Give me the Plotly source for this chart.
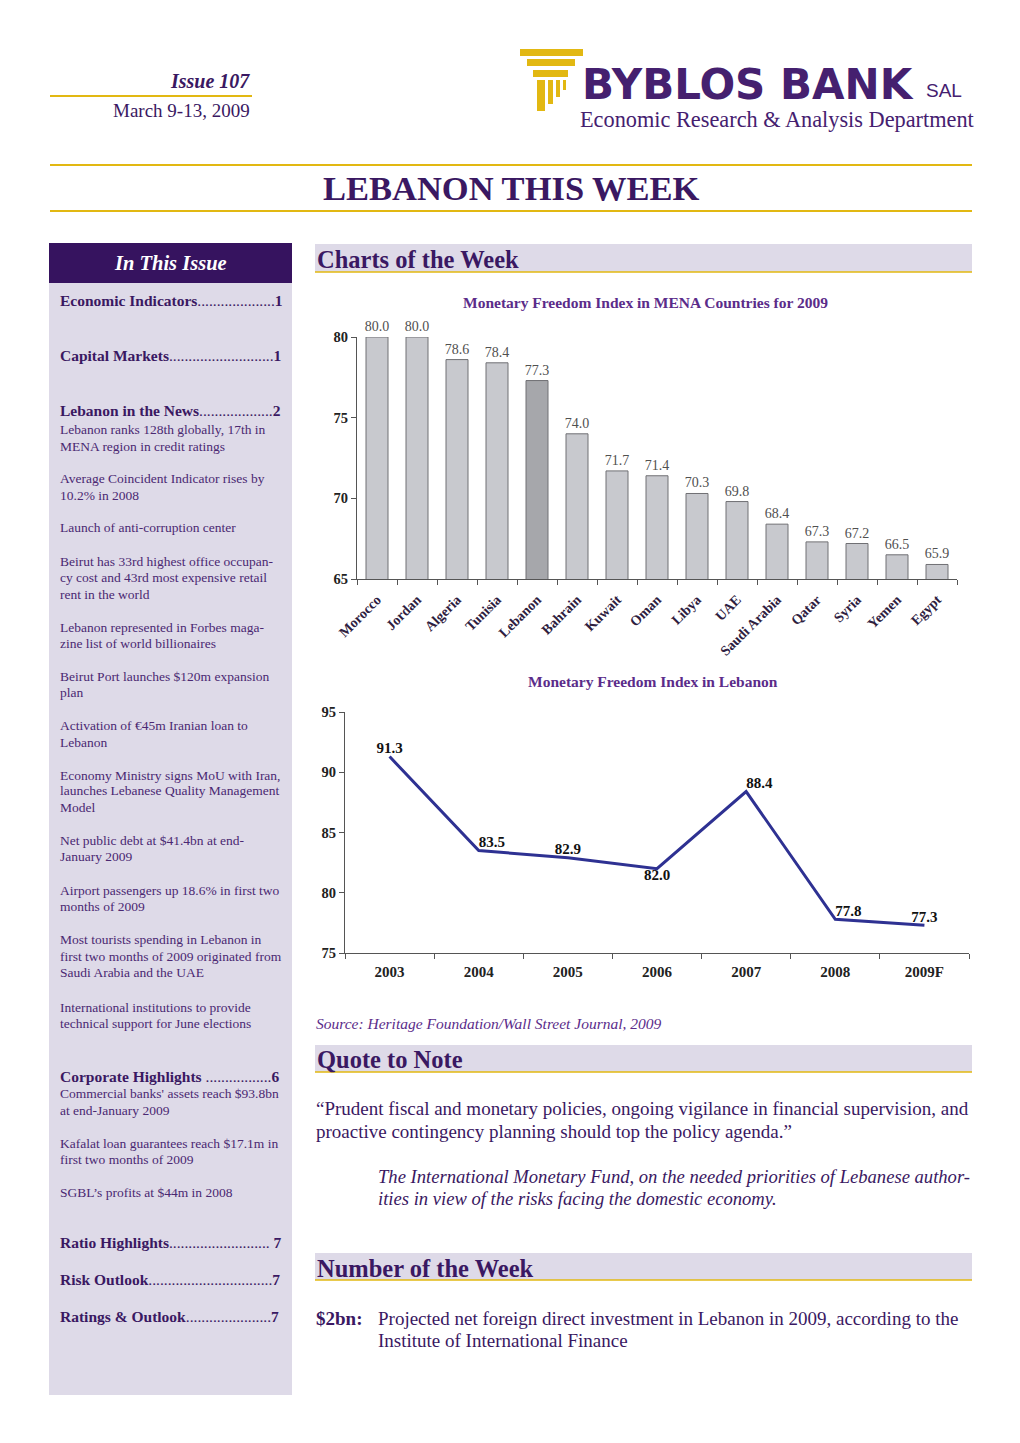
import plotly.graph_objects as go

W, H = 1004, 1427          # page body adds an 8 px margin on each side
OFF = 8
def X(px): return (px - OFF) / W
def Y(py): return 1 - (py - OFF) / H

# ---------------- data ----------------
countries = ["Morocco", "Jordan", "Algeria", "Tunisia", "Lebanon", "Bahrain", "Kuwait",
             "Oman", "Libya", "UAE", "Saudi Arabia", "Qatar", "Syria", "Yemen", "Egypt"]
mena_values = [80.0, 80.0, 78.6, 78.4, 77.3, 74.0, 71.7, 71.4, 70.3, 69.8, 68.4, 67.3, 67.2, 66.5, 65.9]
bar_ticks = [65, 70, 75, 80]

years = ["2003", "2004", "2005", "2006", "2007", "2008", "2009F"]
lebanon_values = [91.3, 83.5, 82.9, 82.0, 88.4, 77.8, 77.3]
line_ticks = [75, 80, 85, 90, 95]
label_pos = ["top center", "top right", "top center", "bottom center", "top right", "top right", "top center"]

sidebar_lines = [
    ("<b>Economic Indicators</b>....................<b>1</b>", 300, 15.5),
    ("<b>Capital Markets</b>...........................<b>1</b>", 356, 15.5),
    ("<b>Lebanon in the News</b>...................<b>2</b>", 411, 15.5),
    ("Lebanon ranks 128th globally, 17th in", 429, 13.5),
    ("MENA region in credit ratings", 446, 13.5),
    ("Average Coincident Indicator rises by", 478, 13.5),
    ("10.2% in 2008", 495, 13.5),
    ("Launch of anti-corruption center", 528, 13.5),
    ("Beirut has 33rd highest office occupan-", 561, 13.5),
    ("cy cost and 43rd most expensive retail", 577, 13.5),
    ("rent in the world", 594, 13.5),
    ("Lebanon represented in Forbes maga-", 627, 13.5),
    ("zine list of world billionaires", 643, 13.5),
    ("Beirut Port launches $120m expansion", 676, 13.5),
    ("plan", 692, 13.5),
    ("Activation of €45m Iranian loan to", 725, 13.5),
    ("Lebanon", 742, 13.5),
    ("Economy Ministry signs MoU with Iran,", 775, 13.5),
    ("launches Lebanese Quality Management", 791, 13.5),
    ("Model", 807, 13.5),
    ("Net public debt at $41.4bn at end-", 840, 13.5),
    ("January 2009", 857, 13.5),
    ("Airport passengers up 18.6% in first two", 890, 13.5),
    ("months of 2009", 906, 13.5),
    ("Most tourists spending in Lebanon in", 939, 13.5),
    ("first two months of 2009 originated from", 956, 13.5),
    ("Saudi Arabia and the UAE", 972, 13.5),
    ("International institutions to provide", 1007, 13.5),
    ("technical support for June elections", 1023, 13.5),
    ("<b>Corporate Highlights</b> .................<b>6</b>", 1076, 15.5),
    ("Commercial banks' assets reach $93.8bn", 1093, 13.5),
    ("at end-January 2009", 1110, 13.5),
    ("Kafalat loan guarantees reach $17.1m in", 1143, 13.5),
    ("first two months of 2009", 1159, 13.5),
    ("SGBL’s profits at $44m in 2008", 1192, 13.5),
    ("<b>Ratio Highlights</b>.......................... <b>7</b>", 1242, 15.5),
    ("<b>Risk Outlook</b>................................<b>7</b>", 1279, 15.5),
    ("<b>Ratings & Outlook</b>......................<b>7</b>", 1316, 15.5),
]

SERIF = "Liberation Serif"
PURPLE = "#45206F"
DARKP = "#3A1862"
TXT = "#4A2872"
GOLD = "#E2B812"
LAV = "#DEDAE8"

fig = go.Figure()

bar_colors = ["#A6A7AB" if c == "Lebanon" else "#C8C9CE" for c in countries]
fig.add_trace(go.Bar(
    x=countries, y=mena_values, marker=dict(color=bar_colors, line=dict(color="#707074", width=1)),
    width=0.55, text=[f"{v:.1f}" for v in mena_values], textposition="outside",
    constraintext="none", cliponaxis=False,
    textfont=dict(family=SERIF, size=14, color="#505050"),
    xaxis="x", yaxis="y", showlegend=False, hoverinfo="skip"))

fig.add_trace(go.Scatter(
    x=years, y=lebanon_values, mode="lines", line=dict(color="#2E3192", width=3),
    xaxis="x2", yaxis="y2", showlegend=False, hoverinfo="skip", cliponaxis=False))
fig.add_trace(go.Scatter(
    x=years, y=lebanon_values, mode="text", text=[f"{v:.1f}" for v in lebanon_values],
    textposition=label_pos,
    textfont=dict(family=SERIF, size=15, color="#111111", weight="bold"),
    xaxis="x2", yaxis="y2", showlegend=False, hoverinfo="skip", cliponaxis=False))

axis_common = dict(showline=True, linecolor="#555555", linewidth=1, ticks="outside",
                   ticklen=5, tickcolor="#555555", showgrid=False, zeroline=False,
                   fixedrange=True, automargin=False)
bold_tick = dict(family=SERIF, size=14.5, color="#222222", weight="bold")

fig.update_layout(
    template="none",
    width=W, height=H, margin=dict(l=0, r=0, t=0, b=0, pad=0, autoexpand=False),
    paper_bgcolor="white", plot_bgcolor="rgba(0,0,0,0)", showlegend=False,
    xaxis=dict(domain=[X(357), X(957)], anchor="y", type="category", tickson="boundaries",
               range=[-0.5, len(countries) - 0.5], ticklabelstandoff=6,
               tickangle=-45, tickfont=dict(family=SERIF, size=14, color="#2E2040", weight="bold"),
               **axis_common),
    yaxis=dict(domain=[Y(579), Y(337)], anchor="x", range=[65, 80], tickvals=bar_ticks,
               tickfont=bold_tick, **axis_common),
    xaxis2=dict(domain=[X(345), X(969)], anchor="y2", type="category", tickson="boundaries",
                range=[-0.5, len(years) - 0.5], ticklabelstandoff=5,
                tickfont=dict(family=SERIF, size=15, color="#222222", weight="bold"),
                **axis_common),
    yaxis2=dict(domain=[Y(953), Y(712)], anchor="x2", range=[75, 95], tickvals=line_ticks,
                tickfont=bold_tick, **axis_common),
)

shapes = []
def rect(x0, y0, x1, y1, color):
    shapes.append(dict(type="rect", xref="paper", yref="paper", x0=X(x0), x1=X(x1),
                       y0=Y(y1), y1=Y(y0), fillcolor=color, line=dict(width=0), layer="below"))
def hline(x0, x1, y, color, w):
    shapes.append(dict(type="line", xref="paper", yref="paper", x0=X(x0), x1=X(x1),
                       y0=Y(y), y1=Y(y), line=dict(color=color, width=w)))

# sidebar
rect(49, 243, 292, 1395, LAV)
rect(49, 243, 292, 283, "#36135F")
# header lines
hline(50, 252, 96, GOLD, 2)
hline(50, 972, 165, GOLD, 2)
hline(50, 972, 211, GOLD, 2)
# section boxes
for (t, b) in [(244, 272), (1045, 1072), (1253, 1280)]:
    rect(315, t, 972, b, LAV)
    hline(315, 972, b, GOLD, 1.5)
# logo
rect(520, 49, 583, 56, GOLD)
rect(527, 59, 575, 66, GOLD)
rect(533, 70, 568, 77, GOLD)
rect(537, 80, 545, 111, GOLD)
rect(548, 80, 553, 104, GOLD)
rect(556, 80, 560, 97, GOLD)
rect(563, 80, 566, 90, GOLD)
fig.update_layout(shapes=shapes)

ann = []
def text(s, x, y, size, color=TXT, xanchor="left", family=SERIF):
    ann.append(dict(text=s, x=X(x), y=Y(y), xref="paper", yref="paper", xanchor=xanchor,
                    yanchor="middle", showarrow=False, align="left", borderpad=0,
                    font=dict(family=family, size=size, color=color)))

text("<b><i>Issue 107</i></b>", 251, 81, 20, DARKP, "right")
text("March 9-13, 2009", 251, 110, 19, DARKP, "right")
text("<b>BYBLOS BANK</b>", 581, 85, 42, PURPLE, "left", "DejaVu Sans")
text("SAL", 925, 90, 19, PURPLE, "left", "Liberation Sans")
text("Economic Research & Analysis Department", 777, 119, 22.3, PURPLE, "center")
text("<b>LEBANON THIS WEEK</b>", 511, 188, 34.5, DARKP, "center")
text("<b><i>In This Issue</i></b>", 170, 263, 20.5, "white", "center")
text("<b>Charts of the Week</b>", 316, 259, 24.5, DARKP)
text("<b>Quote to Note</b>", 316, 1059, 24.5, DARKP)
text("<b>Number of the Week</b>", 316, 1268, 24.5, DARKP)
text("<b>Monetary Freedom Index in MENA Countries for 2009</b>", 645, 302, 15.5, "#5B2C8A", "center")
text("<b>Monetary Freedom Index in Lebanon</b>", 653, 681, 15.5, "#5B2C8A", "center")
text("<i>Source: Heritage Foundation/Wall Street Journal, 2009</i>", 315, 1024, 15.5, "#5B2C8A")
text("“Prudent fiscal and monetary policies, ongoing vigilance in financial supervision, and", 315, 1108, 19, DARKP)
text("proactive contingency planning should top the policy agenda.”", 315, 1131, 19, DARKP)
text("<i>The International Monetary Fund, on the needed priorities of Lebanese author-</i>", 377, 1176, 18.6, DARKP)
text("<i>ities in view of the risks facing the domestic economy.</i>", 377, 1198, 18.6, DARKP)
text("<b>$2bn:</b>", 315, 1318, 19, DARKP)
text("Projected net foreign direct investment in Lebanon in 2009, according to the", 377, 1318, 19, DARKP)
text("Institute of International Finance", 377, 1340, 19, DARKP)

for s, y, size in sidebar_lines:
    text(s, 59, y, size, DARKP if size > 14 else TXT)

fig.update_layout(annotations=ann)
fig.write_html("out.html")
